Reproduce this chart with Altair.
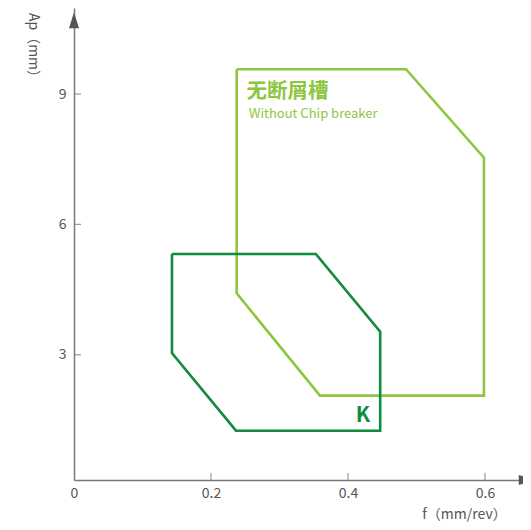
import altair as alt
import pandas as pd

# ---- data ----
light_f = [0.2375, 0.4847, 0.5985, 0.5985, 0.3591, 0.2375, 0.2375]
light_ap = [9.57, 9.57, 7.535, 2.058, 2.058, 4.414, 9.57]
dark_f = [0.143, 0.353, 0.447, 0.447, 0.2365, 0.143, 0.143]
dark_ap = [5.32, 5.32, 3.53, 1.252, 1.252, 3.04, 5.32]

x_label_values = [0, 0.2, 0.4, 0.6]
x_tick_values = [0.2, 0.4, 0.6]
y_tick_values = [3, 6, 9]

title_cn = "无断屑槽"
title_en = "Without Chip breaker"
label_k = "K"
title_cn_pos = (0.252, 9.05)
title_en_pos = (0.2555, 8.53)
label_k_pos = (0.4219, 1.59)

X_MAX = 0.6555
Y_MIN, Y_MAX = 0.117, 10.98
y_arrow_pos = (0.0, 10.70)
x_arrow_pos = (0.661, Y_MIN)

LIGHT = "#8dc63f"
DARK = "#108c3d"
AXIS = "#7a7a7a"
TEXT = "#555555"
FONT = "Noto Sans CJK SC"

# ---- tables ----
rows = []
for i, (f, a) in enumerate(zip(light_f, light_ap)):
    rows.append({"f": f, "ap": a, "order": i, "series": "light"})
for i, (f, a) in enumerate(zip(dark_f, dark_ap)):
    rows.append({"f": f, "ap": a, "order": i, "series": "dark"})
poly = pd.DataFrame(rows)

xs = alt.Scale(domain=[0, X_MAX], nice=False, zero=False)
ys = alt.Scale(domain=[Y_MIN, Y_MAX], nice=False, zero=False)

xaxis = alt.Axis(values=x_label_values, format="~g", ticks=False, grid=False,
                 domainColor=AXIS, domainWidth=1.5, labelColor=TEXT,
                 labelFontSize=14, labelFont=FONT, labelPadding=6,
                 labelFlush=False, labelOverlap=False,
                 title="f（mm/rev）", titleX=390, titleY=38.5, titleAlign="center",
                 titleBaseline="alphabetic", titleFontSize=14, titleFontWeight="normal",
                 titleColor=TEXT, titleFont=FONT)
yaxis = alt.Axis(values=y_tick_values, ticks=False, grid=False,
                 domainColor=AXIS, domainWidth=1.5, labelColor=TEXT,
                 labelFontSize=14, labelFont=FONT, labelPadding=8,
                 labelFlush=False, labelOverlap=False,
                 title="Ap（mm）", titleX=-42, titleY=40, titleAngle=90,
                 titleAlign="center", titleBaseline="middle", titleFontSize=14,
                 titleFontWeight="normal", titleColor=TEXT, titleFont=FONT)

X = alt.X("f:Q", scale=xs, axis=xaxis)
Y = alt.Y("ap:Q", scale=ys, axis=yaxis)

lines = alt.Chart(poly).mark_line(strokeWidth=2.6, strokeJoin="miter").encode(
    x=X, y=Y,
    color=alt.Color("series:N", scale=alt.Scale(domain=["light", "dark"], range=[LIGHT, DARK]), legend=None),
    detail="series:N",
    order="order:Q",
)

ytk = alt.Chart(pd.DataFrame({"f": [0] * len(y_tick_values), "ap": y_tick_values})).mark_tick(
    orient="horizontal", size=7, thickness=1.3, xOffset=3.5, color=AXIS
).encode(x=X, y=Y)

xtk = alt.Chart(pd.DataFrame({"f": x_tick_values, "ap": [Y_MIN] * len(x_tick_values)})).mark_tick(
    orient="vertical", size=7, thickness=1.3, yOffset=-3.5, color=AXIS
).encode(x=X, y=Y)

arrow_up = alt.Chart(pd.DataFrame({"f": [y_arrow_pos[0]], "ap": [y_arrow_pos[1]]})).mark_point(
    shape="M0,-1L0.625,1L-0.625,1Z", size=256, filled=True, opacity=1, color="#555555"
).encode(x=X, y=Y)

arrow_right = alt.Chart(pd.DataFrame({"f": [x_arrow_pos[0]], "ap": [x_arrow_pos[1]]})).mark_point(
    shape="M1,0L-1,-0.625L-1,0.625Z", size=256, filled=True, opacity=1, color="#555555"
).encode(x=X, y=Y)

t_cn = alt.Chart(pd.DataFrame({"f": [title_cn_pos[0]], "ap": [title_cn_pos[1]], "t": [title_cn]})).mark_text(
    align="left", baseline="middle", font=FONT, fontSize=20.5, fontWeight="bold", color=LIGHT
).encode(x=X, y=Y, text="t:N")

t_en = alt.Chart(pd.DataFrame({"f": [title_en_pos[0]], "ap": [title_en_pos[1]], "t": [title_en]})).mark_text(
    align="left", baseline="middle", font=FONT, fontSize=13, color=LIGHT
).encode(x=X, y=Y, text="t:N")

t_k = alt.Chart(pd.DataFrame({"f": [label_k_pos[0]], "ap": [label_k_pos[1]], "t": [label_k]})).mark_text(
    align="center", baseline="middle", font=FONT, fontSize=21, fontWeight="bold", color=DARK
).encode(x=X, y=Y, text="t:N")

chart = alt.layer(lines, ytk, xtk, arrow_up, arrow_right, t_cn, t_en, t_k).properties(
    width=449, height=472,
    padding={"left": 66, "top": 0, "right": 0, "bottom": 42},
    autosize=alt.AutoSizeParams(type="none"),
    background="white",
).configure_view(stroke=None)

chart.save("out.html", embed_options={"renderer": "svg", "actions": False})
